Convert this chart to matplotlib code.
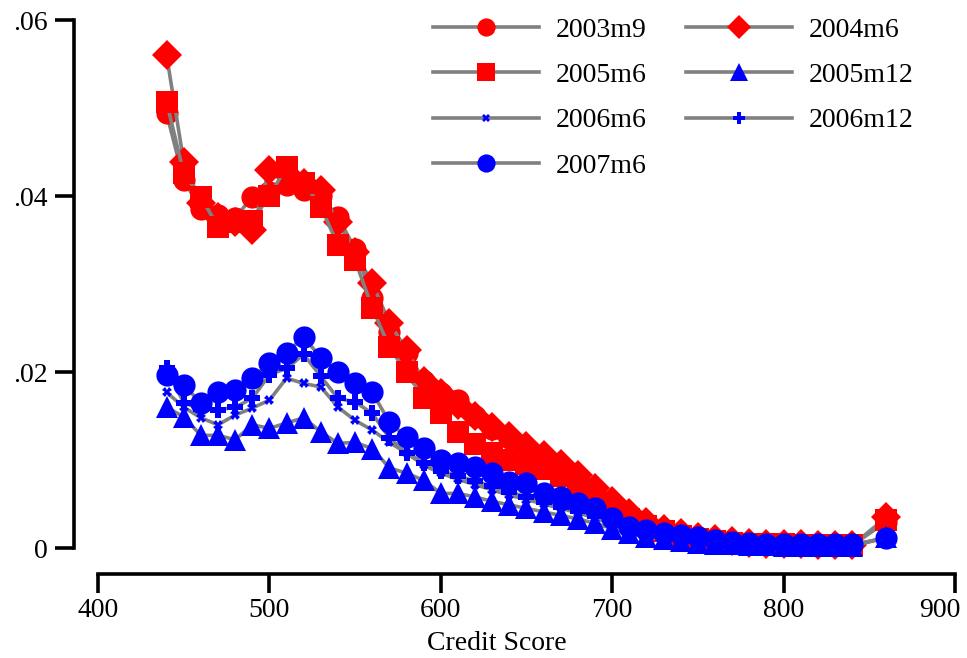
import matplotlib
matplotlib.use("Agg")
import matplotlib.pyplot as plt
from matplotlib.transforms import offset_copy

plt.rcParams['font.family'] = ['Liberation Serif', 'DejaVu Serif']

# Credit score bins
score = [440, 450, 460, 470, 480, 490, 500, 510, 520, 530, 540, 550, 560, 570,
         580, 590, 600, 610, 620, 630, 640, 650, 660, 670, 680, 690, 700, 710,
         720, 730, 740, 750, 760, 770, 780, 790, 800, 810, 820, 830, 840, 860]

s2003m9 = [.0494, .0418, .0385, .0378, .0375, .0399, .0405, .0412, .0407, .0400, .0376,
           .0340, .0284, .0245, .0222, .0190, .0176, .0168, .0150, .0135, .0125, .0112,
           .0102, .0092, .0078, .0063, .0048, .0036, .0027, .0020, .0015, .0011, .0008,
           .0006, .0005, .0004, .0004, .0003, .0003, .0003, .0003, .0030]
s2004m6 = [.0560, .0439, .0392, .0376, .0370, .0361, .0430, .0425, .0415, .0407, .0370,
           .0336, .0301, .0256, .0225, .0190, .0176, .0163, .0150, .0138, .0127, .0116,
           .0106, .0096, .0083, .0068, .0053, .0040, .0030, .0022, .0017, .0013, .0010,
           .0008, .0006, .0005, .0004, .0004, .0003, .0003, .0003, .0035]
s2005m6 = [.0507, .0426, .0399, .0365, .0370, .0372, .0400, .0433, .0415, .0388, .0344,
           .0327, .0273, .0228, .0200, .0170, .0153, .0132, .0118, .0108, .0100, .0095,
           .0090, .0082, .0072, .0058, .0044, .0033, .0025, .0019, .0014, .0010, .0008,
           .0006, .0005, .0004, .0004, .0003, .0003, .0003, .0003, .0032]
s2005m12 = [.0160, .0149, .0128, .0128, .0123, .0140, .0136, .0142, .0148, .0132, .0119,
            .0120, .0113, .0091, .0085, .0077, .0062, .0062, .0058, .0053, .0049, .0045,
            .0041, .0037, .0033, .0028, .0022, .0017, .0013, .0010, .0008, .0006, .0005,
            .0004, .0003, .0003, .0002, .0002, .0002, .0002, .0002, .0012]
s2006m6 = [.0177, .0160, .0148, .0140, .0151, .0159, .0168, .0193, .0187, .0183, .0160,
           .0145, .0134, .0120, .0108, .0094, .0085, .0078, .0072, .0066, .0060, .0055,
           .0050, .0045, .0040, .0034, .0027, .0020, .0015, .0012, .0009, .0007, .0005,
           .0004, .0004, .0003, .0003, .0003, .0003, .0003, .0003, .0012]
s2006m12 = [.0205, .0165, .0158, .0157, .0160, .0170, .0197, .0204, .0220, .0195, .0170,
            .0166, .0153, .0125, .0108, .0097, .0088, .0082, .0076, .0070, .0064, .0058,
            .0052, .0047, .0042, .0036, .0029, .0022, .0017, .0013, .0010, .0008, .0006,
            .0005, .0004, .0004, .0003, .0003, .0003, .0003, .0003, .0012]
s2007m6 = [.0197, .0185, .0165, .0177, .0180, .0193, .0210, .0222, .0240, .0216, .0200,
           .0187, .0177, .0143, .0126, .0114, .0100, .0097, .0092, .0085, .0075, .0074,
           .0062, .0058, .0051, .0045, .0034, .0024, .0020, .0017, .0015, .0013, .0009,
           .0007, .0006, .0005, .0005, .0004, .0004, .0004, .0004, .0011]

series_labels = ['2003m9', '2004m6', '2005m6', '2005m12', '2006m6', '2006m12', '2007m6']
xticks = [400, 500, 600, 700, 800, 900]
yticks = [0, .02, .04, .06]
ytick_labels = ['0', '.02', '.04', '.06']

styles = [
    dict(marker='o', color='red', ms=16),
    dict(marker='D', color='red', ms=15.5),
    dict(marker='s', color='red', ms=15.5),
    dict(marker='^', color='blue', ms=16),
    dict(marker='X', color='blue', ms=7),
    dict(marker='P', color='blue', ms=11),
    dict(marker='o', color='blue', ms=16),
]
data = [s2003m9, s2004m6, s2005m6, s2005m12, s2006m6, s2006m12, s2007m6]

FS = 20

fig = plt.figure(figsize=(9.67, 6.58), dpi=100)
ax = fig.add_axes([98 / 967, 1 - 548 / 658, (955 - 98) / 967, (548 - 20) / 658])

handles = []
for vals, lab, st in zip(data, series_labels, styles):
    h, = ax.plot(score, vals, color='#808080', lw=2.6, marker=st['marker'],
                 ms=st['ms'], mfc=st['color'], mec=st['color'], mew=0,
                 label=lab, clip_on=False)
    handles.append(h)

ax.set_xlim(400, 900)
ax.set_ylim(0, 0.06)
ax.set_xticks(xticks)
ax.set_yticks(yticks)
ax.set_yticklabels(ytick_labels)

for side in ('top', 'right'):
    ax.spines[side].set_visible(False)
ax.spines['left'].set_position(('outward', 17))
ax.spines['bottom'].set_position(('outward', 19))
for side in ('left', 'bottom'):
    ax.spines[side].set_linewidth(2.6)
ax.tick_params(axis='both', length=14, width=2.6, labelsize=FS, pad=5)
ax.tick_params(axis='x', pad=3)

# keep the rightmost tick label inside the canvas
fig.canvas.draw()
last = ax.get_xticklabels()[-1]
last.set_ha('right')
last.set_transform(offset_copy(last.get_transform(), fig=fig, x=6, units='dots'))

ax.set_xlabel('Credit Score', fontsize=FS, labelpad=6)
ax.xaxis.set_label_coords((497 - 98) / 857, -0.158)

# two legend columns: left column then right column
order = [0, 2, 4, 6, 1, 3, 5]
ax.legend([handles[i] for i in order], [series_labels[i] for i in order],
          ncol=2, frameon=False, fontsize=FS, markerscale=0.82,
          handlelength=3.8, handletextpad=0.6, columnspacing=1.45,
          labelspacing=0.72, loc='upper left',
          bbox_to_anchor=(422 / 967, 1 - 6 / 658), bbox_transform=fig.transFigure,
          borderaxespad=0)

fig.savefig('out.png', dpi=100)
